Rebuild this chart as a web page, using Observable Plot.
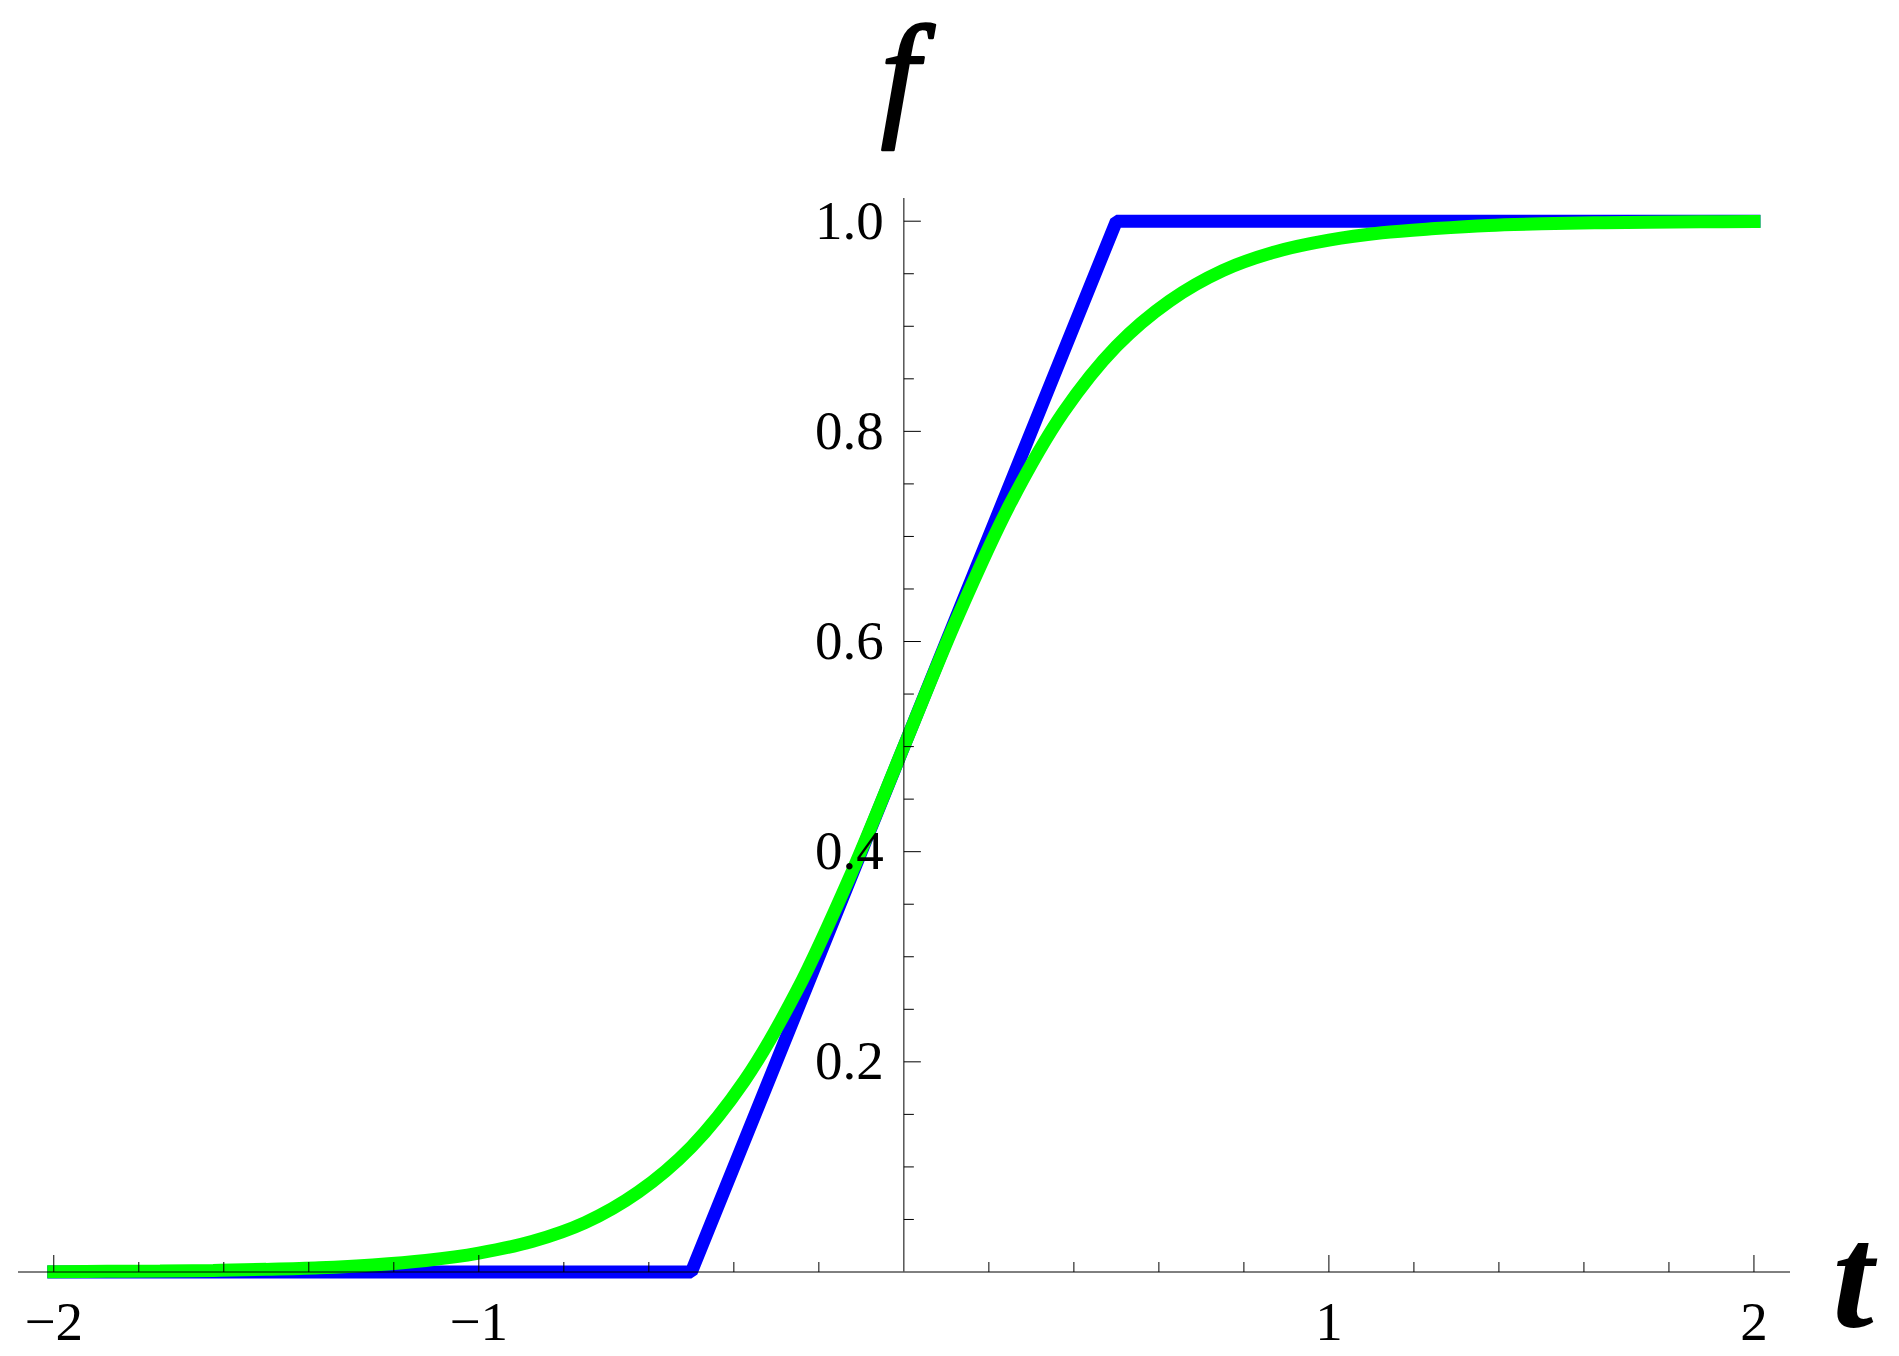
<!DOCTYPE html>
<html><head><meta charset="utf-8">
<script src="https://cdn.jsdelivr.net/npm/d3@7"></script>
<script src="https://cdn.jsdelivr.net/npm/@observablehq/plot@0.6"></script>
<style>
html,body{margin:0;padding:0;background:#fff;overflow:hidden}
#chart svg{display:block}
</style>
</head><body><div id="chart"></div>
<script>
// Piecewise-linear (blue) series
const stepT = [-2, -0.5, 0.5, 2];
const stepF = [0, 0, 1, 1];
// Smooth (green) series
const smoothT = [-2, -1.875, -1.75, -1.625, -1.5, -1.375, -1.25, -1.125, -1, -0.875, -0.75, -0.625, -0.5, -0.375, -0.25, -0.125, 0,
  0.125, 0.25, 0.375, 0.5, 0.625, 0.75, 0.875, 1, 1.125, 1.25, 1.375, 1.5, 1.625, 1.75, 1.875, 2];
const smoothF = [0.0003, 0.0006, 0.0009, 0.0015, 0.0025, 0.004, 0.0067, 0.011, 0.018, 0.029, 0.047, 0.076, 0.119, 0.182, 0.269, 0.378, 0.5,
  0.622, 0.731, 0.818, 0.881, 0.924, 0.953, 0.971, 0.982, 0.989, 0.993, 0.996, 0.9975, 0.9985, 0.999, 0.9994, 0.9997];
// Ticks
const xMajorTicks = [-2, -1, 1, 2];
const xMajorLabels = ["\u22122", "\u22121", "1", "2"];
const xMinorTicks = [-1.8, -1.6, -1.4, -1.2, -0.8, -0.6, -0.4, -0.2, 0.2, 0.4, 0.6, 0.8, 1.2, 1.4, 1.6, 1.8];
const yMajorTicks = [0.2, 0.4, 0.6, 0.8, 1.0];
const yMajorLabels = ["0.2", "0.4", "0.6", "0.8", "1.0"];
const yMinorTicks = [0.05, 0.1, 0.15, 0.25, 0.3, 0.35, 0.45, 0.5, 0.55, 0.65, 0.7, 0.75, 0.85, 0.9, 0.95];
const xLabel = "t";
const yLabel = "f";

const blueData = stepT.map((t, i) => ({t, f: stepF[i]}));
const greenData = smoothT.map((t, i) => ({t, f: smoothF[i]}));

const tickUp = {draw(ctx, size) { const l = Math.sqrt(size / Math.PI); ctx.moveTo(0, 0); ctx.lineTo(0, -l); }};
const tickRight = {draw(ctx, size) { const l = Math.sqrt(size / Math.PI); ctx.moveTo(0, 0); ctx.lineTo(l, 0); }};

const serif = "Liberation Serif, Times New Roman, Times, serif";
const labelSize = 55;

const chart = Plot.plot({
  width: 1899,
  height: 1356,
  marginLeft: 18,
  marginRight: 109,
  marginTop: 198,
  marginBottom: 84.5,
  style: {background: "#fff", overflow: "visible", fontFamily: serif},
  x: {domain: [-2.083, 2.086], axis: null},
  y: {domain: [0, 1.0216], axis: null},
  marks: [
    Plot.line(blueData, {x: "t", y: "f", stroke: "#0000ff", strokeWidth: 13, strokeLinecap: "square", strokeLinejoin: "miter"}),
    Plot.line(greenData, {x: "t", y: "f", stroke: "#00ff00", strokeWidth: 13, strokeLinecap: "square", strokeLinejoin: "miter", curve: "catmull-rom"}),
    Plot.ruleY([0], {stroke: "black", strokeWidth: 1}),
    Plot.ruleX([0], {stroke: "black", strokeWidth: 1}),
    Plot.dot(xMajorTicks, {x: d => d, y: d => 0, r: 17, symbol: tickUp, stroke: "black", fill: "none", strokeWidth: 1}),
    Plot.dot(xMinorTicks, {x: d => d, y: d => 0, r: 10, symbol: tickUp, stroke: "black", fill: "none", strokeWidth: 1}),
    Plot.dot(yMajorTicks, {x: d => 0, y: d => d, r: 17, symbol: tickRight, stroke: "black", fill: "none", strokeWidth: 1}),
    Plot.dot(yMinorTicks, {x: d => 0, y: d => d, r: 10, symbol: tickRight, stroke: "black", fill: "none", strokeWidth: 1}),
    Plot.text(xMajorTicks, {x: d => d, y: d => 0, text: (d, i) => xMajorLabels[i], dy: 50, lineAnchor: "middle", fontSize: labelSize, fontFamily: serif, fill: "black"}),
    Plot.text(yMajorTicks, {x: d => 0, y: d => d, text: (d, i) => yMajorLabels[i], dx: -20, textAnchor: "end", lineAnchor: "middle", fontSize: labelSize, fontFamily: serif, fill: "black"}),
    Plot.text([yLabel], {x: d => 0, frameAnchor: "top", text: d => d, dy: -78, dx: -4, lineAnchor: "bottom", fontSize: 138, fontFamily: serif, fontStyle: "italic", fontWeight: "normal", fill: "black", stroke: "black", strokeWidth: 2.5}),
    Plot.text([xLabel], {y: d => 0, frameAnchor: "right", text: d => d, dx: 42, dy: 55, textAnchor: "start", lineAnchor: "bottom", fontSize: 148, fontFamily: serif, fontStyle: "italic", fontWeight: "bold", fill: "black"})
  ]
});
document.getElementById("chart").appendChild(chart);
</script>
</body></html>
